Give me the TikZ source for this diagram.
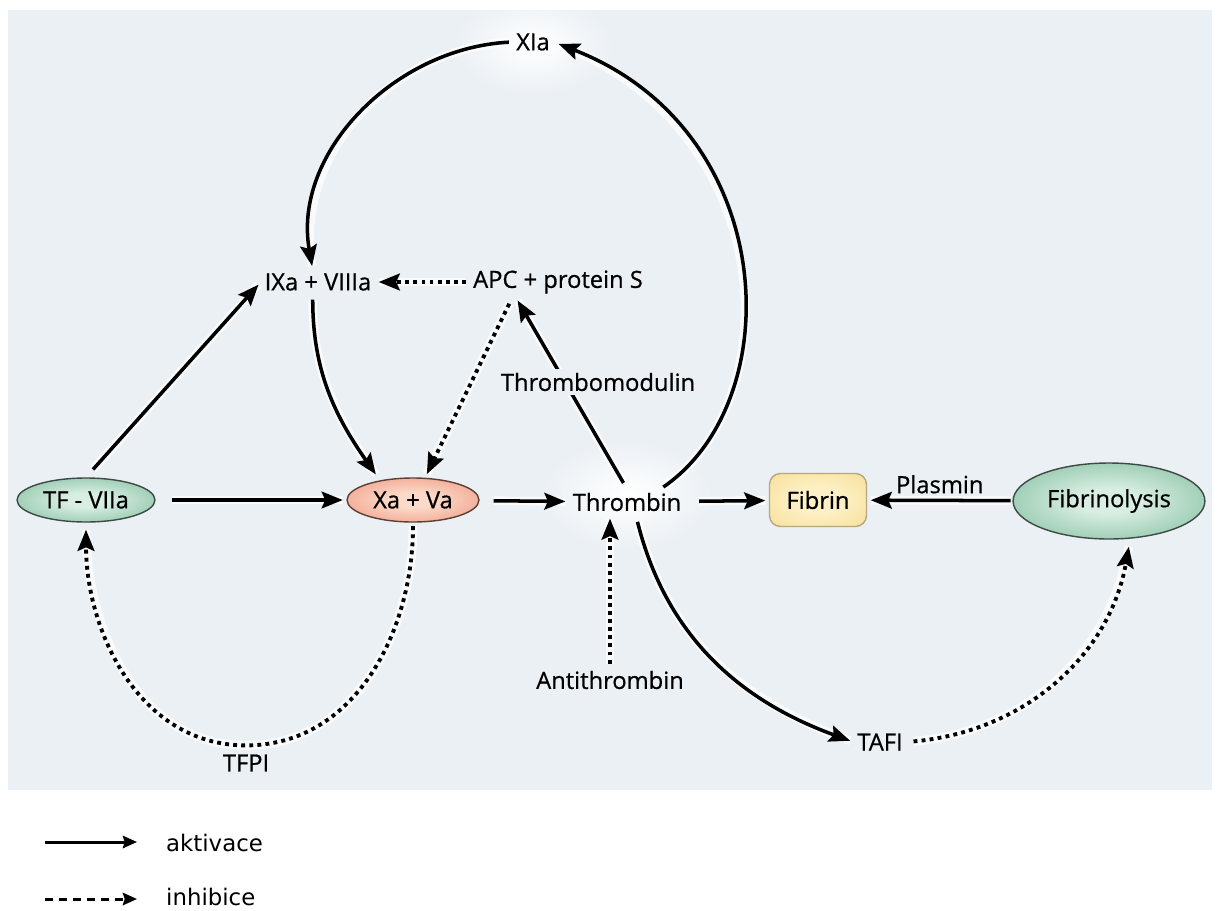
\documentclass[tikz,border=0pt]{standalone}
\usepackage{fontspec}
\setmainfont{Open Sans}[FakeBold=0.7]
\newfontfamily\legendfont{DejaVu Sans}
\usetikzlibrary{arrows.meta, positioning, shapes.geometric, calc}
\definecolor{bgblue}{RGB}{235,240,244}
\definecolor{tfgreen}{RGB}{120,184,152}
\definecolor{tfgreendark}{RGB}{84,150,118}
\definecolor{tfgreenlight}{RGB}{216,238,226}
\definecolor{xasalmon}{RGB}{236,146,120}
\definecolor{xasalmondark}{RGB}{222,112,86}
\definecolor{xasalmonlight}{RGB}{252,218,202}
\definecolor{fibyellow}{RGB}{244,214,130}
\definecolor{fibyellowlight}{RGB}{253,240,196}
\definecolor{rimgray}{RGB}{62,74,68}
\pgfdeclareradialshading{tfshade}{\pgfpoint{0bp}{0bp}}{color(0bp)=(tfgreenlight); color(8bp)=(tfgreenlight); color(38bp)=(tfgreen); color(50bp)=(tfgreendark); color(60bp)=(tfgreendark)}
\pgfdeclareradialshading{xashade}{\pgfpoint{0bp}{0bp}}{color(0bp)=(xasalmonlight); color(8bp)=(xasalmonlight); color(38bp)=(xasalmon); color(50bp)=(xasalmondark); color(60bp)=(xasalmondark)}
\pgfdeclareradialshading{fibshade}{\pgfpoint{0bp}{0bp}}{color(0bp)=(fibyellowlight); color(12bp)=(fibyellowlight); color(50bp)=(fibyellow); color(75bp)=(fibyellow)}

\begin{document}
\begin{tikzpicture}[x=0.02cm, y=0.02cm,
  every node/.style={font=\fontsize{13.5}{16}\selectfont},
  lbl/.style={inner sep=2pt},
  oval/.style={ellipse, draw=rimgray, line width=0.8pt, minimum width=2.64cm, minimum height=0.88cm},
  halo/.style={preaction={draw=white, line width=5pt, solid, -, opacity=0.7}},
  act/.style={halo, line width=2pt, -{Stealth[length=12pt,width=9.5pt,inset=2pt]}, shorten >=2pt, shorten <=6pt},
  inh/.style={act, line width=2.2pt, dash pattern=on 2.2pt off 2.4pt}]
  \useasboundingbox (0,0) rectangle (1221,-910);
  \fill[bgblue] (8,-10) rectangle (1212,-790);

  % white glows behind XIa and Thrombin
  \begin{scope}
    \clip (8,-10) rectangle (1212,-790);
    \shade[inner color=white, outer color=bgblue] (533,-45) ellipse (80 and 50);
    \shade[inner color=white, outer color=bgblue] (627,-495) ellipse (85 and 55);
  \end{scope}

  % factors
  \node[lbl] (xia) at (533,-42) {XIa};
  \node[lbl] (ix) at (318,-282) {IXa + VIIIa};
  \node[lbl] (apc) at (558,-282) {APC + protein S};
  \node[oval, shade, shading=tfshade] (tf) at (86,-500) {TF - VIIa};
  \node[oval, shade, shading=xashade, draw={rgb,255:red,92;green,64;blue,56}] (xava) at (413,-500) {Xa + Va};
  \node[lbl] (thr) at (627,-502) {Thrombin};
  \node[draw={rgb,255:red,182;green,168;blue,124}, line width=0.8pt, rounded corners=0.22cm,
    minimum width=1.94cm, minimum height=1.06cm, shade, shading=fibshade] (fibrin) at (818,-500) {Fibrin};
  \node[oval, minimum width=3.76cm, minimum height=1.52cm, shade, shading=tfshade] (fibl) at (1109,-501) {Fibrinolysis};
  \node[lbl] (at) at (610,-680) {Antithrombin};
  \node[lbl] (tafi) at (880,-742) {TAFI};
  \node[lbl] (tfpi) at (246,-763) {TFPI};

  % activation
  \draw[act, shorten <=9pt] (tf) -- (xava);
  \draw[act, shorten <=8pt] (xava) -- (thr);
  \draw[act, shorten <=8pt] (thr) -- (fibrin);
  \draw[act, shorten <=1pt] (fibl) -- (fibrin) node[lbl, midway, above=1pt] (plasmin) {Plasmin};
  \draw[act] (tf.north) -- (ix.west);
  \draw[act, shorten <=3pt] ([xshift=-3pt]ix.south) to[out=-90, in=125] ([xshift=-20pt]xava.north);
  \draw[act, shorten <=2pt] (xia.west) to[out=183, in=100] ([xshift=-3pt]ix.north);
  \draw[act, shorten <=2pt, shorten >=3pt] ([xshift=-14pt]thr.north east)
    .. controls (790,-400) and (780,-130) .. (xia.east);
  \draw[act, shorten <=4pt] (thr.north) -- ([xshift=-24pt]apc.south);
  \node[lbl, fill=bgblue] (tmod) at (598,-382) {Thrombomodulin};
  \draw[act, shorten <=4pt] ([xshift=5pt]thr.south) to[out=-76, in=160] (tafi.west);

  % inhibition
  \draw[inh, shorten <=2pt] (apc.west) -- (ix.east);
  \draw[inh, shorten <=4pt] ([xshift=-26pt]apc.south) -- ([xshift=7pt]xava.north);
  \draw[inh, shorten <=2pt, shorten >=4pt] (xava.south) to[out=-90, in=0] ([yshift=3pt]tfpi.north)
    to[out=180, in=-90] (tf.south);
  \draw[inh, shorten <=2pt] (at.north) -- (at.north |- thr.south);
  \draw[inh, shorten <=4pt, shorten >=4pt] (tafi.east) to[out=5, in=-100] ([xshift=12pt]fibl.south);

  % legend
  \coordinate (la1) at (45,-842);
  \coordinate (la2) at (137,-842);
  \coordinate (li1) at (45,-899);
  \coordinate (li2) at (137,-899);
  \draw[line width=1.7pt, -{Stealth[length=8pt,width=7pt,inset=1pt]}] (la1) -- (la2);
  \draw[line width=1.7pt, dash pattern=on 4.5pt off 3.5pt, -{Stealth[length=8pt,width=7pt,inset=1pt]}] (li1) -- (li2);
  \node[anchor=west, font=\legendfont\fontsize{13}{15}\selectfont] (akt) at (160,-843) {aktivace};
  \node[anchor=west, font=\legendfont\fontsize{13}{15}\selectfont] (inhib) at (160,-897) {inhibice};
\end{tikzpicture}
\end{document}
